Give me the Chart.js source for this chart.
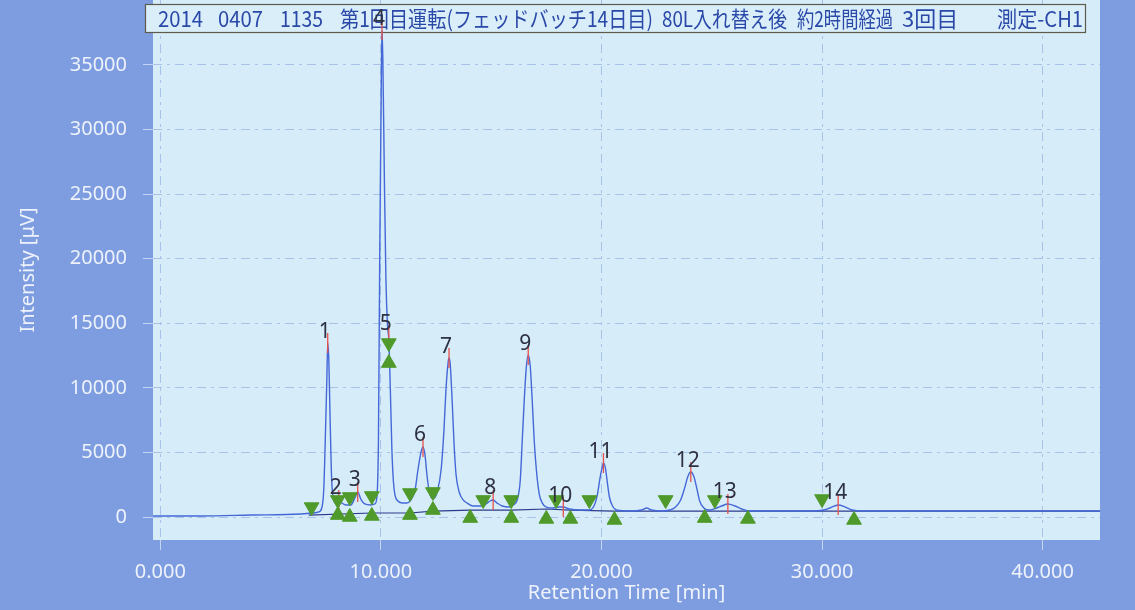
<!DOCTYPE html>
<html>
<head>
<meta charset="utf-8">
<script src="https://cdn.jsdelivr.net/npm/chart.js@4/dist/chart.umd.min.js"></script>
<style>
  html, body { margin: 0; padding: 0; background: #7d9de0; }
  canvas { display: block; }
</style>
</head>
<body>
<canvas id="chart" width="1135" height="610"></canvas>
<script>
// chromatogram trace (min, µV)
const traceTime = [
  -0.33, 1.82, 4.09, 6.36, 6.91, 7.18, 7.32, 7.41, 7.48, 7.55, 7.59, 7.64, 7.70, 7.77, 7.86, 7.95,
  8.09, 8.23, 8.41, 8.64, 8.82, 8.95, 9.09, 9.27, 9.55, 9.73, 9.82, 9.89, 9.95, 10.02, 10.05, 10.09,
  10.16, 10.23, 10.30, 10.36, 10.43, 10.50, 10.57, 10.64, 10.77, 11.00, 11.18, 11.36, 11.55, 11.68,
  11.82, 11.91, 12.00, 12.09, 12.18, 12.32, 12.41, 12.55, 12.73, 12.86, 12.95, 13.05, 13.09, 13.14,
  13.23, 13.32, 13.41, 13.55, 13.73, 13.91, 14.18, 14.55, 14.77, 14.95, 15.09, 15.27, 15.50, 15.82,
  16.00, 16.18, 16.32, 16.41, 16.50, 16.59, 16.68, 16.77, 16.86, 16.95, 17.05, 17.18, 17.32, 17.50,
  17.82, 18.09, 18.27, 18.55, 19.00, 19.45, 19.68, 19.82, 19.95, 20.05, 20.09, 20.18, 20.27, 20.36,
  20.50, 20.68, 21.36, 21.82, 22.05, 22.27, 22.73, 23.09, 23.36, 23.59, 23.77, 23.91, 24.05, 24.18,
  24.32, 24.45, 24.64, 24.91, 25.23, 25.45, 25.73, 26.05, 26.36, 26.73, 28.18, 29.55, 30.09, 30.36,
  30.73, 31.05, 31.36, 31.82, 35.91, 40.45, 42.6
];
const traceIntensity = [
  80, 80, 150, 230, 310, 390, 700, 2090, 5960, 10600, 13470, 12150, 7510, 2860, 1320, 1080,
  1320, 1080, 930, 930, 1470, 1940, 1390, 1010, 930, 1010, 1550, 5960, 20670, 33820, 37700, 35370,
  26080, 18340, 14860, 13700, 9830, 5190, 2710, 1700, 1240, 1080, 1080, 1320, 2090, 3640,
  5030, 5420, 4800, 3250, 2090, 1470, 1470, 1940, 3640, 6730, 9830, 12000, 12310, 11920,
  9060, 5570, 3250, 1940, 1320, 1080, 850, 850, 1010, 1240, 1320, 1080, 850, 770,
  930, 1320, 2860, 5960, 9060, 11530, 12540, 11690, 9060, 5960, 3640, 1780, 1080, 770,
  700, 770, 770, 620, 540, 540, 930, 1780, 3170, 3950, 4180, 3790, 2630, 1550,
  850, 540, 460, 540, 700, 540, 460, 540, 770, 1320, 2240, 3100, 3480, 3170,
  2240, 1240, 700, 540, 700, 850, 1010, 850, 620, 460, 460, 460, 540, 700,
  930, 770, 540, 460, 460, 460, 460
];

// integration baseline
const baseTime = [6.73, 9.59, 11.32, 12.36, 14.05, 15.91, 17.50, 18.59, 20.59, 24.68, 26.64, 31.45, 42.6];
const baseIntensity = [150, 310, 310, 460, 540, 540, 620, 540, 460, 460, 460, 460, 460];

// peaks
const peakNos = ['1', '2', '3', '4', '5', '6', '7', '8', '9', '10', '11', '12', '13', '14'];
const peakTimes = [7.59, 8.09, 8.95, 10.05, 10.36, 11.91, 13.09, 15.09, 16.68, 18.27, 20.09, 24.05, 25.73, 30.73];
const peakHeights = [13470, 1320, 1940, 37700, 14090, 5420, 12310, 1320, 12540, 770, 4180, 3480, 1010, 930];

// peak start / end markers
const startTime = [6.86, 8.05, 8.59, 9.59, 10.36, 11.32, 12.36, 14.64, 15.91, 17.95, 19.45, 22.91, 25.14, 30.00];
const startIntensity = [770, 1320, 1550, 1630, 13470, 1860, 1940, 1320, 1320, 1320, 1320, 1320, 1320, 1390];
const endTime = [8.05, 8.59, 9.59, 10.36, 11.32, 12.36, 14.05, 15.91, 17.50, 18.59, 20.59, 24.68, 26.64, 31.45];
const endIntensity = [150, 0, 80, 11920, 150, 540, -80, -80, -150, -150, -230, -80, -150, -230];

const xTicks = [0, 10, 20, 30, 40];
const yTicks = [0, 5000, 10000, 15000, 20000, 25000, 30000, 35000];

const titleParts = [
  ['2014', 158, 45], ['0407', 218, 45], ['1135', 280, 43],
  ['第1回目運転(フェッドバッチ14日目)', 340, 313], ['80L入れ替え後', 662, 125],
  ['約2時間経過', 797, 96], ['3回目', 902, 75], ['測定-CH1', 997, 86]
];

const pts = (xs, ys) => xs.map((v, i) => ({ x: v, y: ys[i] }));

const decor = {
  id: 'decor',
  beforeDraw(c) {
    const ctx = c.ctx, a = c.chartArea;
    ctx.save();
    ctx.fillStyle = '#7d9de0';
    ctx.fillRect(0, 0, c.width, c.height);
    ctx.fillStyle = '#d6ecf9';
    ctx.fillRect(a.left, a.top, a.right - a.left, a.bottom - a.top);
    ctx.restore();
  },
  beforeDatasetsDraw(c) {
    const ctx = c.ctx;
    ctx.save();
    ctx.fillStyle = '#d9eef9';
    ctx.fillRect(145, 4, 940, 28);
    ctx.strokeStyle = '#5e5a4a';
    ctx.lineWidth = 1.2;
    ctx.strokeRect(145.5, 4.5, 940, 28);
    ctx.fillStyle = '#2a48a8';
    ctx.font = '22px "Noto Sans CJK JP"';
    ctx.textBaseline = 'middle';
    ctx.textAlign = 'left';
    titleParts.forEach(p => ctx.fillText(p[0], p[1], 19, p[2]));
    ctx.restore();
  },
  afterDatasetsDraw(c) {
    const ctx = c.ctx, xs = c.scales.x, ys = c.scales.y;
    ctx.save();
    ctx.fillStyle = '#2d3142';
    ctx.font = '21px "Noto Sans"';
    ctx.textAlign = 'center';
    ctx.textBaseline = 'bottom';
    peakNos.forEach((n, i) => {
      const px = xs.getPixelForValue(peakTimes[i]) - 3;
      const py = ys.getPixelForValue(peakHeights[i]) - 1;
      ctx.fillText(n, px, py);
    });
    ctx.restore();
  }
};

const lightText = '#eef2fb';

new Chart(document.getElementById('chart').getContext('2d'), {
  type: 'line',
  data: {
    datasets: [
      {
        data: pts(startTime, startIntensity), showLine: false, order: 0,
        pointStyle: 'triangle', pointRotation: 180, pointRadius: 8.5,
        pointBackgroundColor: '#4f9a2a', pointBorderColor: '#4f9a2a', pointBorderWidth: 1
      },
      {
        data: pts(endTime, endIntensity), showLine: false, order: 0,
        pointStyle: 'triangle', pointRadius: 8.5,
        pointBackgroundColor: '#4f9a2a', pointBorderColor: '#4f9a2a', pointBorderWidth: 1
      },
      {
        data: pts(peakTimes, peakHeights), showLine: false, order: 1,
        pointStyle: 'line', pointRotation: 90, pointRadius: 10,
        pointBorderColor: '#e8504a', pointBorderWidth: 1.3
      },
      {
        data: pts(traceTime, traceIntensity), order: 2,
        borderColor: '#4468d8', borderWidth: 1.4, pointRadius: 0,
        cubicInterpolationMode: 'monotone'
      },
      {
        data: pts(baseTime, baseIntensity), order: 3,
        borderColor: '#2b3b8c', borderWidth: 1.2, pointRadius: 0, tension: 0
      }
    ]
  },
  options: {
    responsive: false,
    animation: false,
    layout: { autoPadding: false, padding: { left: 0, right: 35, top: 0, bottom: 0 } },
    plugins: { legend: { display: false }, tooltip: { enabled: false } },
    scales: {
      x: {
        type: 'linear', min: -0.33, max: 42.6,
        afterBuildTicks: s => { s.ticks = xTicks.map(v => ({ value: v })); },
        afterFit: s => { s.height = 70; s.paddingLeft = 0; s.paddingRight = 0; },
        ticks: {
          color: lightText, font: { family: 'Noto Sans', size: 20 }, padding: 10,
          autoSkip: false, maxRotation: 0, callback: v => Number(v).toFixed(3)
        },
        grid: { color: '#a9c2e8', lineWidth: 1, tickLength: 10, tickColor: '#c4d4f2', tickBorderDash: [] },
        border: { display: false, dash: [9, 5, 3, 5] },
        title: {
          display: true, text: 'Retention Time [min]', color: lightText,
          font: { family: 'Noto Sans', size: 20 }, padding: { top: 0, bottom: 5 }
        }
      },
      y: {
        min: -1780, max: 40030,
        afterBuildTicks: s => { s.ticks = yTicks.map(v => ({ value: v })); },
        afterFit: s => { s.width = 153; s.paddingTop = 0; s.paddingBottom = 0; },
        ticks: {
          color: lightText, font: { family: 'Noto Sans', size: 20 }, padding: 16,
          autoSkip: false, callback: v => String(v)
        },
        grid: { color: '#a9c2e8', lineWidth: 1, tickLength: 10, tickColor: '#c4d4f2', tickBorderDash: [] },
        border: { display: false, dash: [9, 5, 3, 5] },
        title: {
          display: true, text: 'Intensity [μV]', color: lightText,
          font: { family: 'Noto Sans', size: 20 }, padding: { top: 16, bottom: 0 }
        }
      }
    }
  },
  plugins: [decor]
});
</script>
</body>
</html>
